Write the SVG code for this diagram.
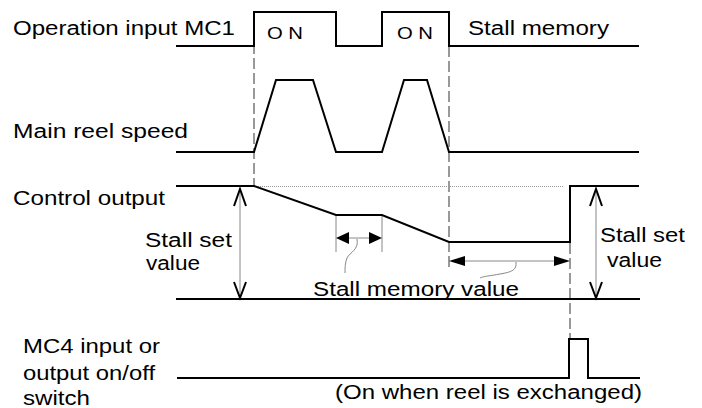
<svg xmlns="http://www.w3.org/2000/svg" width="702" height="408" viewBox="0 0 702 408">
<style>
.t{font-family:"Liberation Sans",Arial,sans-serif;font-size:20px;fill:#000}
.on{font-family:"Liberation Sans",Arial,sans-serif;font-size:16px;fill:#000}
.w{fill:none;stroke:#000;stroke-width:2}
.d{fill:none;stroke:#333;stroke-width:1;stroke-dasharray:11 4}
.g{fill:none;stroke:#888;stroke-width:1}
.dot{fill:none;stroke:#999;stroke-width:1;stroke-dasharray:1 1}
.v{fill:none;stroke:#000;stroke-width:2}
.h{fill:#000;stroke:none}
</style>
<rect width="702" height="408" fill="#fff"/>
<g id="labels">
<text class="t" x="13" y="35" textLength="222" lengthAdjust="spacingAndGlyphs">Operation input MC1</text>
<text class="on" x="267" y="39" textLength="36" lengthAdjust="spacingAndGlyphs">O N</text>
<text class="on" x="397" y="39" textLength="36" lengthAdjust="spacingAndGlyphs">O N</text>
<text class="t" x="468" y="35" textLength="141" lengthAdjust="spacingAndGlyphs">Stall memory</text>
<text class="t" x="13" y="138" textLength="175" lengthAdjust="spacingAndGlyphs">Main reel speed</text>
<text class="t" x="13" y="205" textLength="152" lengthAdjust="spacingAndGlyphs">Control output</text>
<text class="t" x="145" y="247" textLength="87" lengthAdjust="spacingAndGlyphs">Stall set</text>
<text class="t" x="146" y="270" textLength="54" lengthAdjust="spacingAndGlyphs">value</text>
<text class="t" x="313" y="296" textLength="206" lengthAdjust="spacingAndGlyphs">Stall memory value</text>
<text class="t" x="600" y="242" textLength="85" lengthAdjust="spacingAndGlyphs">Stall set</text>
<text class="t" x="607" y="267" textLength="55" lengthAdjust="spacingAndGlyphs">value</text>
<text class="t" x="23" y="353" textLength="137" lengthAdjust="spacingAndGlyphs">MC4 input or</text>
<text class="t" x="23" y="380" textLength="132" lengthAdjust="spacingAndGlyphs">output on/off</text>
<text class="t" x="23" y="405" textLength="67" lengthAdjust="spacingAndGlyphs">switch</text>
<text class="t" x="335" y="399" textLength="307" lengthAdjust="spacingAndGlyphs">(On when reel is exchanged)</text>
</g>
<g id="guides">
<line class="d" x1="254" y1="13" x2="254" y2="186"/>
<line class="d" x1="449" y1="46" x2="449" y2="268"/>
<line class="d" x1="570" y1="243" x2="570" y2="339"/>
<line class="dot" x1="256" y1="186.5" x2="563" y2="186.5"/>
<line class="g" x1="336" y1="215" x2="336" y2="252"/>
<line class="g" x1="382" y1="215" x2="382" y2="252"/>
</g>
<g id="waveforms">
<polyline id="mc1" class="w" points="176,46 254,46 254,12 336,12 336,46 382,46 382,12 449,12 449,46 639,46"/>
<polyline id="reel" class="w" points="176,152 254,152 276,80 313,80 336,152 382,152 404,80 427,80 449,152 639,152"/>
<polyline id="ctrl" class="w" points="176,186 254,186 336,215 382,215 449,242 570,242 570,186 639,186"/>
<line id="base" class="w" x1="176" y1="299" x2="640" y2="299"/>
<polyline id="mc4" class="w" points="177,378 569,378 569,339 588,339 588,378 640,378"/>
</g>
<g id="dimensions">
<line class="g" x1="240" y1="189" x2="240" y2="298"/>
<polyline class="v" points="234,206 240,189 246,206"/>
<polyline class="v" points="234,282 240,298 246,282"/>
<line class="g" x1="596" y1="189" x2="596" y2="298"/>
<polyline class="v" points="590,206 596,189 602,206"/>
<polyline class="v" points="590,282 596,298 602,282"/>
<line class="g" x1="348" y1="238" x2="370" y2="238"/>
<polygon class="h" points="336,238 349,232 349,244"/>
<polygon class="h" points="382,238 369,232 369,244"/>
<line class="g" x1="464" y1="261" x2="555" y2="261"/>
<polygon class="h" points="449,261 465,256 465,266"/>
<polygon class="h" points="570,261 554,256 554,266"/>
<path class="g" d="M357,239 C359,250 350,252 347,258 C345,263 345,268 345,273"/>
<path class="g" d="M516,262 C517,270 512,272 500,274 C490,276 484,276 480,278"/>
</g>
</svg>
